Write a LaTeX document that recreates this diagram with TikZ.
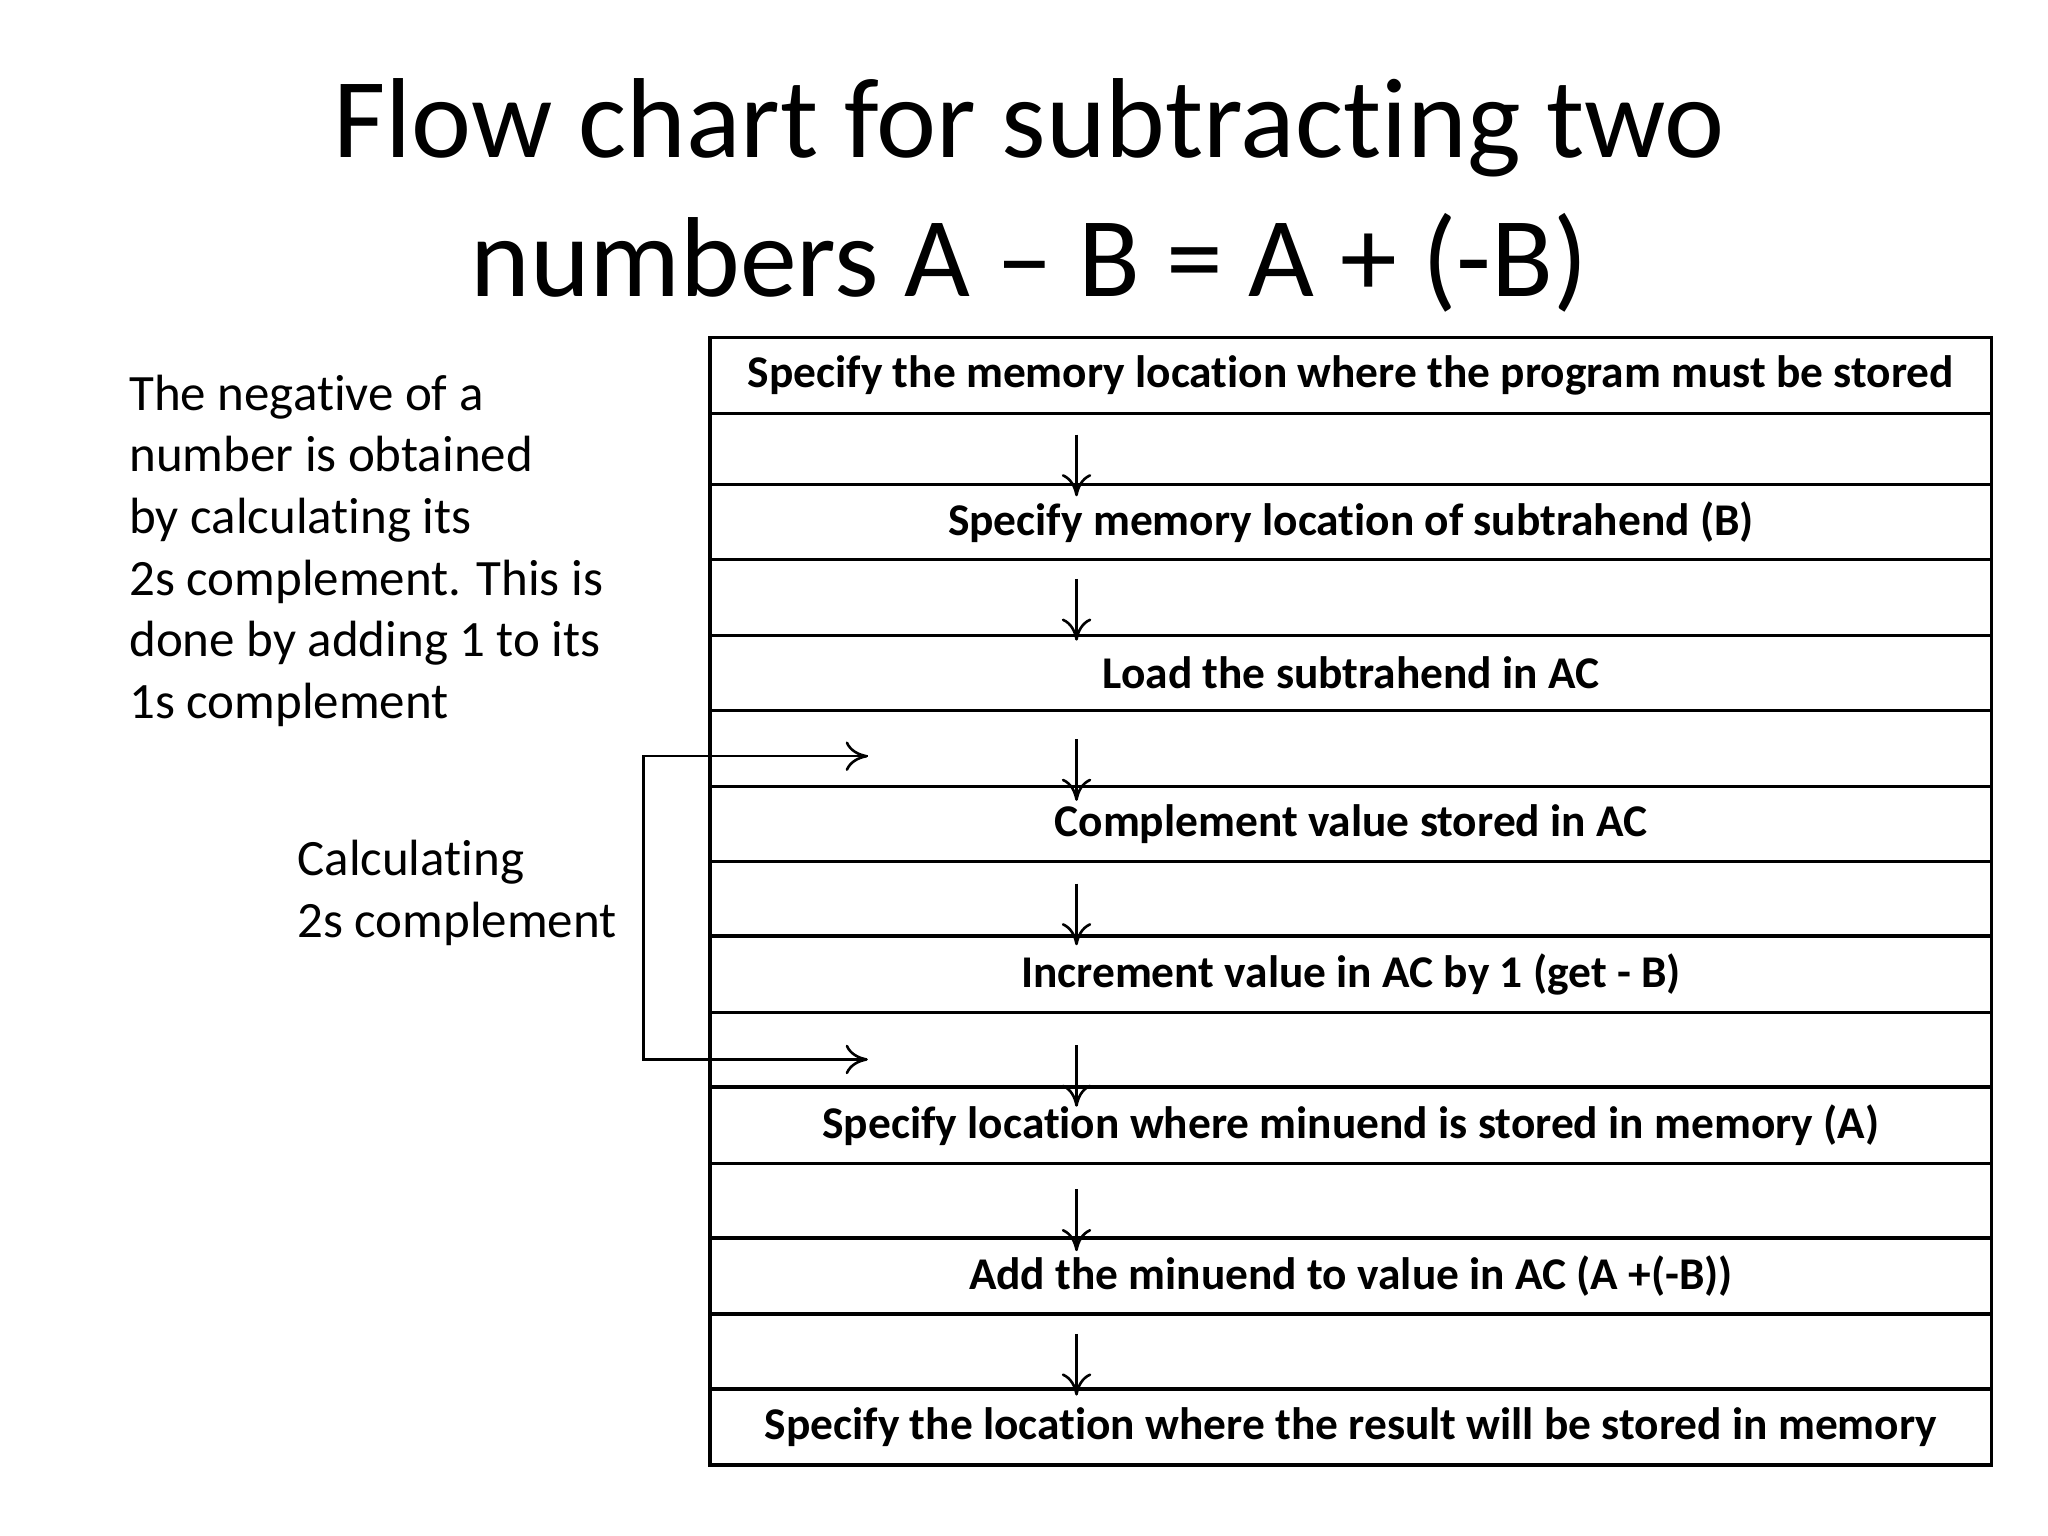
\documentclass[tikz,border=0pt]{standalone}
\usepackage{fontspec}
\setmainfont{Carlito}[Ligatures={NoCommon,NoRare}]
\usetikzlibrary{arrows.meta}
\begin{document}
\begin{tikzpicture}[x=0.0125cm,y=-0.0125cm,
  row/.style={draw,line width=0.9pt,minimum width=12.2cm,inner sep=0pt,outer sep=0pt,font=\fontsize{12.3}{14}\selectfont\bfseries},
  arr/.style={-{To[length=6pt,width=8pt]},line width=0.7pt}]
\useasboundingbox (0,0) rectangle (1560,1170);
\node (t1) at (784,97) {\fontsize{30.8}{36}\selectfont Flow chart for subtracting two};
\node (t2) at (784,200) {\fontsize{30.8}{36}\selectfont numbers A -- B = A + (-B)};
\node[anchor=north west,align=left,inner sep=0pt,font=\fontsize{13.8}{16.7}\selectfont] (note) at (98,285)
 {The negative of a\\number is obtained\\by calculating its\\2s complement. This is\\done by adding 1 to its\\1s complement};
\node[anchor=west,align=left,inner sep=0pt,font=\fontsize{13.8}{16.7}\selectfont] (calc) at (226,680)
 {Calculating\\2s complement};
\foreach \i/\a/\b/\t in {
 r1/257/315/{Specify the memory location where the program must be stored},
 e1/315/369/{},
 r2/369/426/{Specify memory location of subtrahend (B)},
 e2/426/484/{},
 r3/484/541/{Load the subtrahend in AC},
 e3/541/599/{},
 r4/599/656/{Complement value stored in AC},
 e4/656/713/{},
 r5/713/771/{Increment value in AC by 1 (get - B)},
 e5/771/828/{},
 r6/828/886/{Specify location where minuend is stored in memory (A)},
 e6/886/943/{},
 r7/943/1001/{Add the minuend to value in AC (A +(-B))},
 e7/1001/1058/{},
 r8/1058/1116/{Specify the location where the result will be stored in memory}}
 {\node[row,minimum height={(\b-\a)*0.0125cm}] (\i) at (1029,{(\a+\b)/2}) {\t};}
\foreach \s/\e in {331/378,441/488,563/610,673/720,796/843,906/953,1016/1063}
 \draw[arr] (820,\s) -- (820,\e);
\coordinate (b1) at (661,576);
\coordinate (b2) at (661,807);
\draw[arr] (b1) -| (490,807) -- (b2);
\draw[arr] (490,576) -- (b1);
\end{tikzpicture}
\end{document}
